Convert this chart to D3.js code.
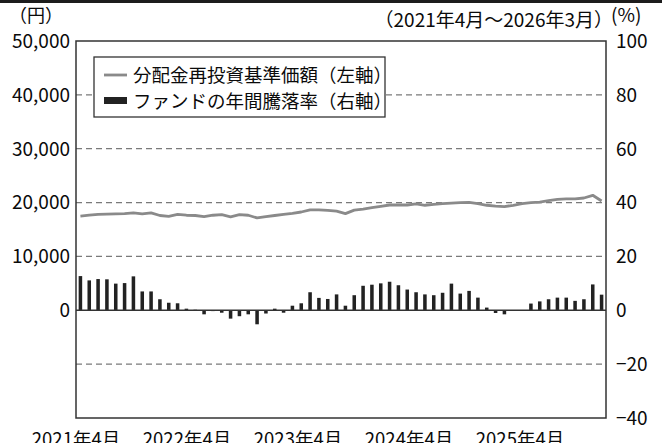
<!DOCTYPE html>
<html>
<head>
<meta charset="utf-8">
<script src="https://cdn.jsdelivr.net/npm/d3@7"></script>
<style>
  html, body { margin: 0; padding: 0; background: #fff; }
  svg { display: block; font-family: "Noto Sans CJK JP", "Noto Sans", sans-serif; }
</style>
</head>
<body>
<div id="chart"></div>
<script>
// 2021年4月 ～ 2026年3月 (月末)
const months = d3.timeMonth.range(new Date(2021, 3, 1), new Date(2026, 3, 1));

// 分配金再投資基準価額 (円)
const navValues = [
  17500, 17650, 17800, 17850, 17900, 17950, 18100, 17900, 18100, 17600,
  17450, 17800, 17650, 17600, 17400, 17650, 17750, 17350, 17750, 17650,
  17150, 17400, 17600, 17800, 18000, 18250, 18650, 18650, 18550, 18400,
  17950, 18600, 18800, 19050, 19300, 19550, 19550, 19550, 19750, 19500,
  19650, 19800, 19900, 20000, 20050, 19800, 19500, 19350, 19250, 19500,
  19800, 20000, 20100, 20350, 20600, 20700, 20700, 20850, 21350, 20300
];

// ファンドの年間騰落率 (%)
const annualReturn = [
  12.7, 11.1, 11.6, 11.5, 9.9, 10.1, 12.6, 7.0, 7.0, 4.1,
  2.8, 2.6, 0.6, 0.2, -1.5, -0.3, -0.9, -3.1, -2.2, -1.5,
  -5.2, -1.2, 0.6, -0.9, 1.7, 2.6, 6.7, 4.6, 4.2, 5.9,
  1.7, 5.6, 9.1, 9.5, 10.0, 10.6, 9.3, 7.7, 6.7, 5.9,
  5.6, 6.5, 9.9, 6.2, 7.2, 4.7, 1.0, -1.0, -1.5, 0.1,
  0.1, 2.5, 3.3, 4.1, 4.7, 4.7, 3.5, 4.1, 9.6, 5.8
];

const leftTicks = [0, 10000, 20000, 30000, 40000, 50000];
const rightTicks = [100, 80, 60, 40, 20, 0, -20, -40];
const gridTicks = [80, 60, 40, 20, -20];
const xTickIndex = [0, 12, 24, 36, 48];
const xTickLabels = ["2021年4月", "2022年4月", "2023年4月", "2024年4月", "2025年4月"];

const legendLabels = ["分配金再投資基準価額（左軸）", "ファンドの年間騰落率（右軸）"];

const W = 662, H = 443;
const plot = { left: 76, right: 606, top: 41, bottom: 418 };
const ink = "#0a0a0a";

const svg = d3.select("#chart").append("svg").attr("width", W).attr("height", H);

// 上部の帯
svg.append("rect").attr("x", 0).attr("y", 0).attr("width", W).attr("height", 3).attr("fill", "#1c1c1c");

const x = d3.scaleBand()
  .domain(d3.range(months.length))
  .range([plot.left, plot.right])
  .paddingInner(0.6)
  .paddingOuter(0.3);

const yL = d3.scaleLinear().domain([-20000, 50000]).range([plot.bottom, plot.top]);
const yR = d3.scaleLinear().domain([-40, 100]).range([plot.bottom, plot.top]);

// 年ラベル用 (棒とは別の間隔で並んでいる)
const xLabel = d3.scaleLinear().domain([0, 12]).range([76, 187]);

// grid
svg.append("g").selectAll("line").data(gridTicks).enter().append("line")
  .attr("x1", plot.left).attr("x2", plot.right)
  .attr("y1", d => yR(d)).attr("y2", d => yR(d))
  .attr("stroke", "#7a7a7a").attr("stroke-width", 1.3)
  .attr("stroke-dasharray", "6,4");

// bars
svg.append("g").selectAll("rect").data(annualReturn).enter().append("rect")
  .attr("x", (d, i) => x(i))
  .attr("width", x.bandwidth())
  .attr("y", d => yR(Math.max(0, d)))
  .attr("height", d => Math.abs(yR(d) - yR(0)))
  .attr("fill", "#222");

// zero line
svg.append("line")
  .attr("x1", plot.left).attr("x2", plot.right)
  .attr("y1", yR(0)).attr("y2", yR(0))
  .attr("stroke", "#333").attr("stroke-width", 1.4);

// NAV line
const line = d3.line()
  .x((d, i) => x(i) + x.bandwidth() / 2)
  .y(d => yL(d));

svg.append("path").datum(navValues)
  .attr("d", line)
  .attr("fill", "none")
  .attr("stroke", "#8a8a8a")
  .attr("stroke-width", 2.8)
  .attr("stroke-linejoin", "round");

// frame
svg.append("rect")
  .attr("x", plot.left).attr("y", plot.top)
  .attr("width", plot.right - plot.left).attr("height", plot.bottom - plot.top)
  .attr("fill", "none").attr("stroke", "#333").attr("stroke-width", 1.5);

// left axis labels
svg.append("g").selectAll("text").data(leftTicks).enter().append("text")
  .attr("x", 70).attr("y", d => yL(d))
  .attr("dy", "0.36em")
  .attr("text-anchor", "end")
  .attr("font-size", 19).attr("fill", ink)
  .text(d => d3.format(",")(d));

// right axis labels
svg.append("g").selectAll("text").data(rightTicks).enter().append("text")
  .attr("x", 616).attr("y", d => yR(d))
  .attr("dy", "0.36em")
  .attr("font-size", 19).attr("fill", ink)
  .text(d => d < 0 ? "−" + Math.abs(d) : d);

// x labels (下端で切れている)
svg.append("g").selectAll("text").data(xTickIndex).enter().append("text")
  .attr("x", d => xLabel(d)).attr("y", 446)
  .attr("text-anchor", "middle")
  .attr("font-size", 18.5).attr("fill", ink)
  .text((d, i) => xTickLabels[i]);

// units / period
svg.append("text").attr("x", 9).attr("y", 22).attr("font-size", 18).attr("fill", ink).text("（円）");
svg.append("text").attr("x", 613).attr("y", 27).attr("text-anchor", "end").attr("font-size", 19).attr("fill", ink)
  .text("（2021年4月～2026年3月）");
svg.append("text").attr("x", 611).attr("y", 22).attr("font-size", 19).attr("fill", ink).text("(%)");

// legend
const lg = svg.append("g").attr("transform", "translate(94,57)");
lg.append("rect").attr("width", 291).attr("height", 60)
  .attr("fill", "#fff").attr("stroke", "#333").attr("stroke-width", 1.3);
lg.append("line").attr("x1", 10).attr("x2", 33).attr("y1", 18).attr("y2", 18)
  .attr("stroke", "#8a8a8a").attr("stroke-width", 2.8);
lg.append("rect").attr("x", 10).attr("y", 40).attr("width", 23).attr("height", 7).attr("fill", "#222");
lg.selectAll("text.lbl").data(legendLabels).enter().append("text")
  .attr("class", "lbl")
  .attr("x", 39).attr("y", (d, i) => 18 + i * 26)
  .attr("dy", "0.36em")
  .attr("font-size", 18.5).attr("fill", ink)
  .text(d => d);
</script>
</body>
</html>
